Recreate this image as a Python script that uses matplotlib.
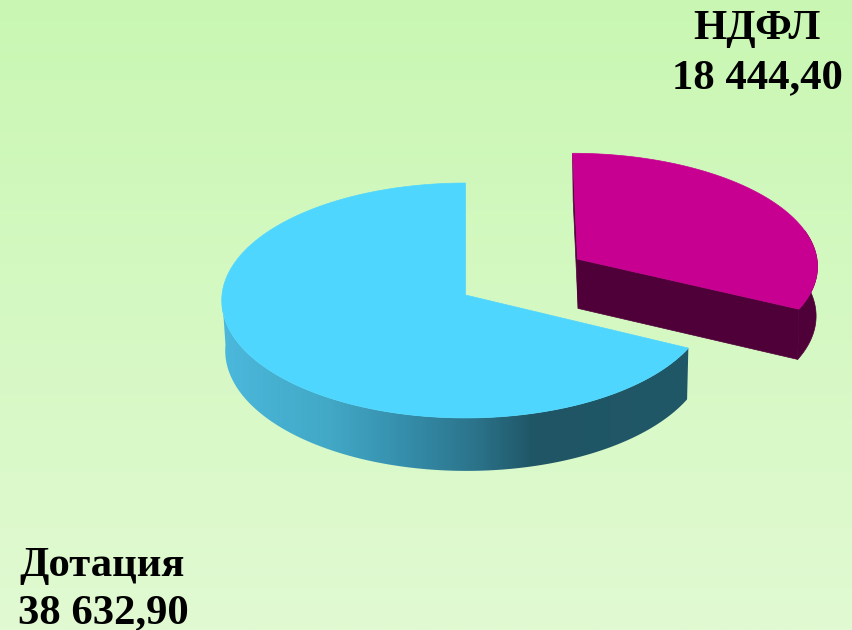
import numpy as np
import matplotlib
matplotlib.use("Agg")
import matplotlib.pyplot as plt
from matplotlib.colors import LinearSegmentedColormap
from matplotlib.patches import Polygon

categories = ["Дотация", "НДФЛ"]
values = [38632.90, 18444.40]
value_labels = ["38 632,90", "18 444,40"]

TOP_COLORS = ["#4FD6FF", "#C80092"]
DARK_MAGENTA = "#4F0038"
EXPLODE = [(0.0, 0.0), (0.47, 0.32)]
PERSP = 0.0468
TOP_VIEW = dict(cx=465.5, cy=295.0, rx=243.5, ry=117.2)
BASE_VIEW = dict(cx=466.5, cy=345.0, rx=241.0, ry=120.0)
TOP_VIEW_M = dict(cx=465.0, cy=295.0, rx=243.0, ry=114.0)
BASE_VIEW_M = dict(cx=466.5, cy=345.0, rx=241.0, ry=116.0)


def project(theta_deg, view, offset=(0.0, 0.0), radius=1.0):
    t = np.radians(np.atleast_1d(theta_deg))
    u = radius * np.cos(t) + offset[0]
    v = radius * np.sin(t) + offset[1]
    w = 1 + PERSP * v
    return view["cx"] + view["rx"] * u / w, view["cy"] - view["ry"] * v / w


def rim(a, b, view, offset=(0.0, 0.0), n=200):
    return project(np.linspace(a, b, n), view, offset)


def wall(a, b, top, base, offset=(0.0, 0.0)):
    x1, y1 = rim(a, b, top, offset)
    x2, y2 = rim(a, b, base, offset)
    return np.r_[x1, x2[::-1]], np.r_[y1, y2[::-1]]


def apex(view, offset):
    x, y = project(0, view, offset, radius=0.0)
    return x[0], y[0]


fig = plt.figure(figsize=(8.53, 6.3), dpi=100)
ax = fig.add_axes([0, 0, 1, 1])
ax.set_xlim(0, 853)
ax.set_ylim(630, 0)
ax.axis("off")

bg = LinearSegmentedColormap.from_list("bg", ["#C9F7B3", "#E1FAD2"])
ax.imshow(np.linspace(0, 1, 256)[:, None], cmap=bg, extent=(0, 853, 630, 0),
          aspect="auto", zorder=0)

shares = np.array(values) / np.sum(values) * 360
starts = 90 + np.r_[0, np.cumsum(shares)[:-1]]
ends = starts + shares

# Blue slice: outer wall with a horizontal gradient, then the top face
wall_cmap = LinearSegmentedColormap.from_list(
    "wall",
    [(0.0, "#4BB8DC"), (0.23, "#42A8C6"), (0.38, "#3690AD"),
     (0.55, "#2B7289"), (0.67, "#1F5565"), (1.0, "#215868")],
)
wx, wy = wall(180, ends[0], TOP_VIEW, BASE_VIEW, EXPLODE[0])
poly = Polygon(np.c_[wx, wy], closed=True, fc="none", ec="none", zorder=2)
ax.add_patch(poly)
im = ax.imshow(np.linspace(0, 1, 512)[None, :], cmap=wall_cmap,
               extent=(wx.min(), wx.max(), wy.max(), wy.min()),
               aspect="auto", zorder=2)
im.set_clip_path(poly)

rx, ry = rim(starts[0], ends[0], TOP_VIEW, EXPLODE[0])
ax0, ay0 = apex(TOP_VIEW, EXPLODE[0])
ax.fill(np.r_[ax0, rx], np.r_[ay0, ry], color=TOP_COLORS[0], lw=0.5, zorder=3)

# Magenta slice: cut faces, outer wall, then the top face
off = EXPLODE[1]
tx, ty = apex(TOP_VIEW_M, off)
bx, by = apex(BASE_VIEW_M, off)
for angle in (ends[1], ends[0]):
    sx, sy = project(angle, TOP_VIEW_M, off)
    ex, ey = project(angle, BASE_VIEW_M, off)
    ax.fill([tx, sx[0], ex[0], bx], [ty, sy[0], ey[0], by],
            color=DARK_MAGENTA, lw=0.5, zorder=4)
mx, my = wall(ends[0], 360 + 15, TOP_VIEW_M, BASE_VIEW_M, off)
ax.fill(mx, my, color=DARK_MAGENTA, lw=0.5, zorder=4)

rx, ry = rim(ends[0], ends[1], TOP_VIEW_M, off)
ax.fill(np.r_[tx, rx], np.r_[ty, ry], color=TOP_COLORS[1], lw=0.5, zorder=5)

# Labels
font = dict(family="Liberation Serif", weight="bold", fontsize=30.8,
            color="black", ha="center", va="baseline", zorder=6)
label_pos = [((102, 576), (103, 623)), ((757, 39), (757, 88))]
for name, val, (p1, p2) in zip(categories, value_labels, label_pos):
    ax.text(p1[0], p1[1], name, **font)
    ax.text(p2[0], p2[1], val, **font)

fig.savefig("out.png", dpi=100)
